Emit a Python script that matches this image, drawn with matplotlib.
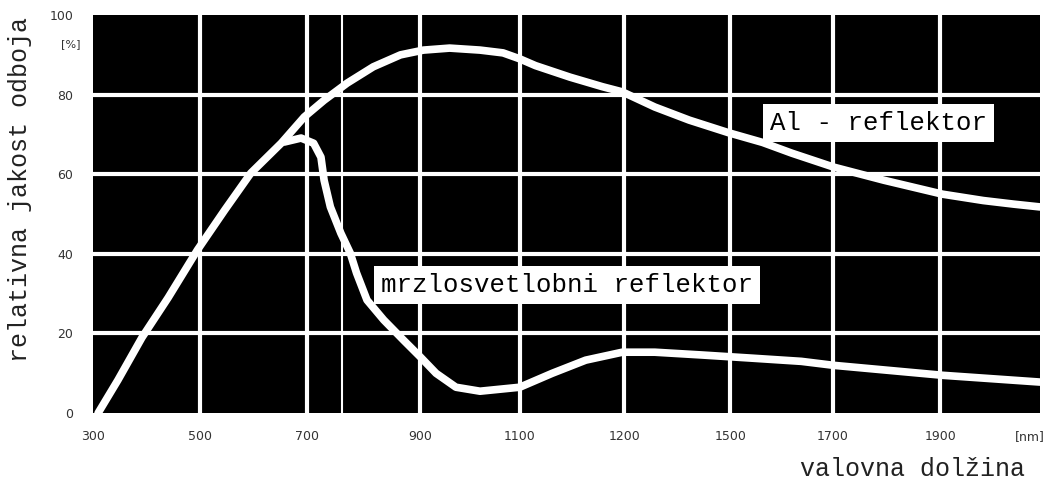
import matplotlib.pyplot as plt
import numpy as np

# x positions are in grid units (the printed wavelength scale is not linear)
x_labels = ['300', '500', '700', '900', '1100', '1200', '1500', '1700', '1900', '[nm]']
x_grid = [0.97, 2.0, 3.08, 4.03, 5.03, 6.04, 7.02, 8.05]
x_ticks = [-0.05] + x_grid + [8.9]
y_ticks = [0, 20, 40, 60, 80, 100]

# Al reflector
al_x = [0, 0.19, 0.42, 0.67, 0.95, 1.21, 1.46, 1.75, 1.97, 2.16, 2.38, 2.63, 2.89, 3.11, 3.36,
        3.65, 3.87, 4.03, 4.18, 4.51, 4.82, 5.01, 5.32, 5.65, 6.03, 6.35, 6.63, 7.03, 7.51, 8.07,
        8.46, 8.75, 9.0]
al_y = [0, 8.3, 19, 29, 41, 51, 60.3, 67.8, 74.4, 78.6, 82.9, 87, 90, 91.2, 91.7,
        91.2, 90.5, 89.0, 87.3, 84.4, 82, 80.7, 76.9, 73.6, 70.4, 68, 65.3, 61.8, 58.5, 55.0,
        53.4, 52.5, 51.8]

# cold-light reflector
cl_x = [1.78, 1.94, 2.06, 2.13, 2.16, 2.22, 2.32, 2.41, 2.47, 2.57, 2.73, 2.92, 3.08, 3.23,
        3.42, 3.65, 4.03, 4.34, 4.66, 5.01, 5.32, 5.77, 6.25, 6.72, 7.03, 8.07, 9.0]
cl_y = [68.1, 69.1, 67.8, 64.3, 58.5, 51.8, 45.2, 40.2, 35.2, 28.4, 23.4, 18.3, 14.1, 10,
        6.5, 5.5, 6.5, 10, 13.3, 15.3, 15.3, 14.6, 13.8, 13.0, 12.0, 9.5, 7.8]

fig = plt.figure(figsize=(10.43, 4.86), dpi=100)
ax = fig.add_axes([0.089, 0.150, 0.908, 0.819])
ax.set_facecolor('black')

for g in x_grid:
    ax.axvline(g, color='white', lw=3)
ax.axvline(2.33, color='white', lw=1.5)
for v in [20, 40, 60, 80]:
    ax.axhline(v, color='white', lw=3)

ax.plot(al_x, al_y, color='white', lw=5.5, solid_capstyle='round', solid_joinstyle='round')
ax.plot(cl_x, cl_y, color='white', lw=5.5, solid_capstyle='round', solid_joinstyle='round')

box = dict(facecolor='white', edgecolor='none', pad=5)
ax.text(7.46, 72.9, 'Al - reflektor', family='Liberation Mono', fontsize=18.5,
        ha='center', va='center', bbox=box)
ax.text(4.48, 32.2, 'mrzlosvetlobni reflektor', family='Liberation Mono', fontsize=18.5,
        ha='center', va='center', bbox=box)

ax.set_xlim(0, 9)
ax.set_ylim(0, 100)
ax.set_xticks(x_ticks)
ax.set_xticklabels(x_labels, fontsize=9, color='#333333')
ax.set_yticks(y_ticks)
ax.set_yticklabels([str(v) for v in y_ticks], fontsize=9, color='#333333')
ax.tick_params(length=0, pad=12)
ax.tick_params(axis='y', pad=14)
ax.text(-0.26, 92.7, '[%]', fontsize=8, color='#333333', ha='center', va='center')
for s in ax.spines.values():
    s.set_visible(False)

fig.text(0.019, 0.61, 'relativna jakost odboja', family='Liberation Mono', fontsize=18,
         rotation=90, ha='center', va='center', color='#222222')
fig.text(0.983, 0.035, 'valovna dolžina', family='Liberation Mono', fontsize=18,
         ha='right', va='center', color='#222222')

plt.savefig('out.png', dpi=100)
